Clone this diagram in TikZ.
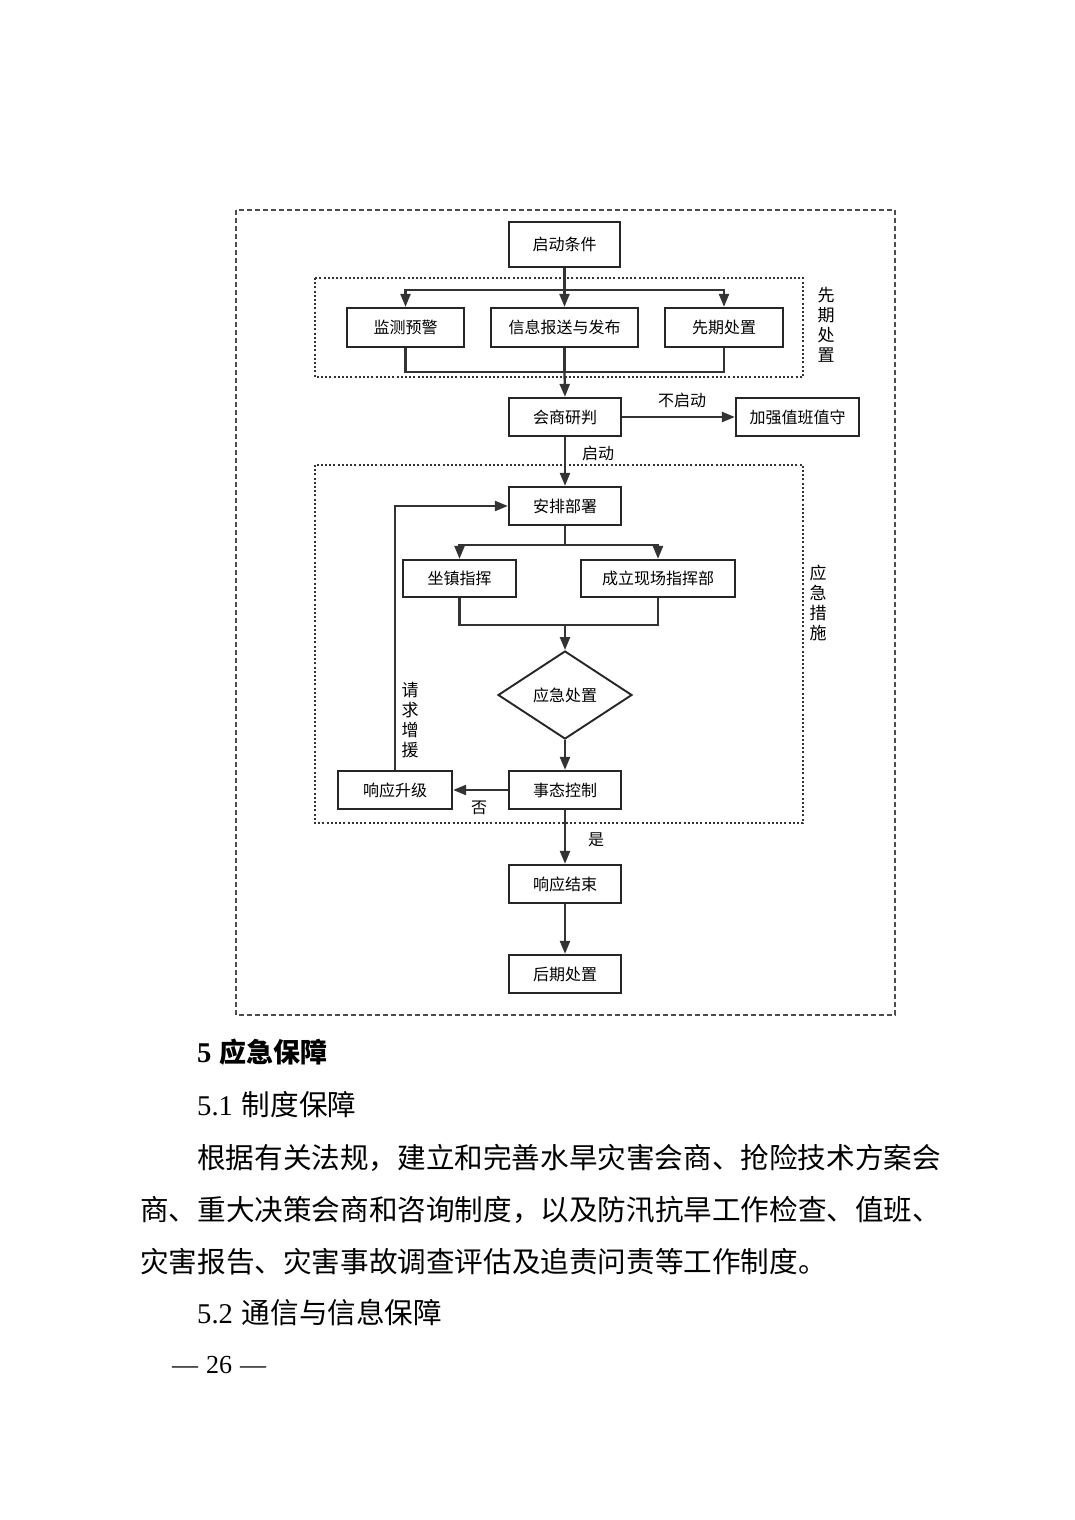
\documentclass[tikz,border=0pt]{standalone}
\usepackage{fontspec}
\setmainfont{Liberation Serif}
\newfontfamily\cjk{Noto Sans CJK SC}
\usetikzlibrary{arrows.meta,shapes.geometric}
\tikzset{
 box/.style={draw=black!85, line width=2.3pt, inner sep=0pt, font=\cjk\fontsize{16}{16}\selectfont},
 conn/.style={draw=black!80, line width=2.3pt},
 arr/.style={conn, -{Triangle[length=13pt,width=10pt]}},
 lab/.style={inner sep=0pt, font=\cjk\fontsize{16}{16}\selectfont},
 vlab/.style={inner sep=0pt, align=center, font=\cjk\fontsize{17}{20}\selectfont},
 grp/.style={draw=black!80, line width=2pt, dash pattern=on 2pt off 2.2pt},
 outerbox/.style={draw=black!70, line width=1.2pt, dash pattern=on 5pt off 3pt},
 body/.style={anchor=west, inner sep=0pt, font=\fontsize{28.6}{28.6}\selectfont},
}
\begin{document}
\begin{tikzpicture}[x=1pt,y=-1pt]
\useasboundingbox[fill=white] (0,0) rectangle (1074,1520);
% frames
\draw[outerbox] (236,210) rectangle (895,1015);
\draw[grp] (315,278) rectangle (803,377);
\draw[grp] (315,465) rectangle (803,823);
% nodes
\node[box, minimum width=111pt, minimum height=45pt] (start) at (564.5,244.5) {启动条件};
\node[box, minimum width=117pt, minimum height=39pt] (mon) at (405.5,327.5) {监测预警};
\node[box, minimum width=147pt, minimum height=39pt] (info) at (564.5,327.5) {信息报送与发布};
\node[box, minimum width=118pt, minimum height=39pt] (pre) at (724,327.5) {先期处置};
\node[box, minimum width=112pt, minimum height=38pt] (meet) at (565,417) {会商研判};
\node[box, minimum width=123pt, minimum height=38pt] (duty) at (797.5,417) {加强值班值守};
\node[box, minimum width=112pt, minimum height=38pt] (plan) at (565,506) {安排部署};
\node[box, minimum width=113pt, minimum height=37pt] (seat) at (459.5,578.5) {坐镇指挥};
\node[box, minimum width=154pt, minimum height=37pt] (site) at (658,578.5) {成立现场指挥部};
\node[box, diamond, aspect=1.52, minimum width=134pt, minimum height=88pt, line width=1.9pt] (dis) at (565,695) {应急处置};
\node[box, minimum width=112pt, minimum height=38pt] (ctrl) at (565,790) {事态控制};
\node[box, minimum width=114pt, minimum height=38pt] (up) at (395,790) {响应升级};
\node[box, minimum width=112pt, minimum height=38pt] (fin) at (565,884) {响应结束};
\node[box, minimum width=112pt, minimum height=38pt] (post) at (565,974) {后期处置};
% connectors
\coordinate (j1) at (564.5,290);
\coordinate (j2) at (564.5,372);
\draw[conn] (start.south) -- (j1);
\draw[arr] (j1) -| (mon.north);
\draw[arr] (j1) -- (info.north);
\draw[arr] (j1) -| (pre.north);
\draw[conn] (mon.south) |- (j2);
\draw[conn] (pre.south) |- (j2);
\draw[conn] (info.south) -- (j2);
\draw[arr] (j2) -- (meet.north);
\draw[arr] (meet.east) -- (duty.west);
\draw[arr] (meet.south) -- (plan.north);
\coordinate (j3) at (565,545);
\coordinate (j4) at (565,625);
\draw[conn] (plan.south) -- (j3);
\draw[arr] (j3) -| (seat.north);
\draw[arr] (j3) -| (site.north);
\draw[conn] (seat.south) |- (j4);
\draw[conn] (site.south) |- (j4);
\draw[arr] (j4) -- (dis.north);
\draw[arr] (dis.south) -- (ctrl.north);
\draw[arr] (ctrl.west) -- (up.east);
\draw[arr] (up.north) |- (plan.west);
\draw[arr] (ctrl.south) -- (fin.north);
\draw[arr] (fin.south) -- (post.north);
% labels
\node[lab] (l1) at (682,400) {不启动};
\node[lab] (l2) at (598,453) {启动};
\node[lab] (l3) at (479,808) {否};
\node[lab] (l4) at (596,840) {是};
\node[vlab] (v1) at (826,325) {先\\期\\处\\置};
\node[vlab] (v2) at (818,603) {应\\急\\措\\施};
\node[vlab] (v3) at (410,720) {请\\求\\增\\援};
% body text
\node[body] (h5) at (197,1052) {\textbf{5}\hspace{8pt}{\cjk\fontsize{27}{27}\selectfont\bfseries 应急保障}};
\node[body] (h51) at (197,1105) {5.1\hspace{9pt}{\cjk 制度保障}};
\node[body] (p1) at (197,1158) {\cjk 根据有关法规，建立和完善水旱灾害会商、抢险技术方案会};
\node[body] (p2) at (140,1210) {\cjk 商、重大决策会商和咨询制度，以及防汛抗旱工作检查、值班、};
\node[body] (p3) at (140,1262) {\cjk 灾害报告、灾害事故调查评估及追责问责等工作制度。};
\node[body] (h52) at (197,1313) {5.2\hspace{9pt}{\cjk 通信与信息保障}};
\node[body, font=\fontsize{26}{26}\selectfont] (pg) at (172,1365) {—\hspace{8pt}26\hspace{8pt}—};
\end{tikzpicture}
\end{document}
